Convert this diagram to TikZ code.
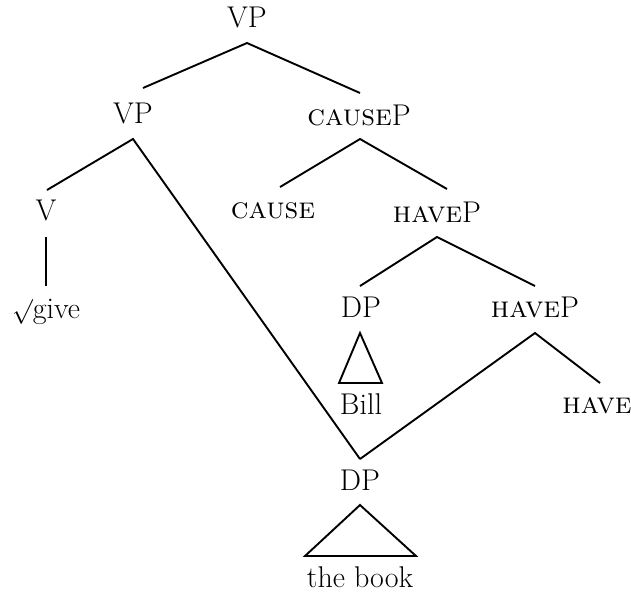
\documentclass[tikz,border=0pt]{standalone}
\begin{document}
\begin{tikzpicture}[x=1pt,y=-1pt,
  lbl/.style={anchor=base,inner sep=0pt,font=\fontsize{30}{36}\selectfont},
  edge/.style={line width=1.9pt,line join=miter},
  roof/.style={line width=1.9pt,line join=miter}]
\useasboundingbox (0,0) rectangle (631,592);

% labels
\node[lbl] (vp0)    at (247,27)  {VP};
\node[lbl] (vp1)    at (133,123) {VP};
\node[lbl] (causeP) at (359,125) {\textsc{cause}P};
\node[lbl] (v)      at (46,220)  {V};
\node[lbl] (cause)  at (273,218) {\textsc{cause}};
\node[lbl] (haveP1) at (437,222) {\textsc{have}P};
\node[lbl] (give)   at (46,318)  {$\surd$give};
\node[lbl] (dp1)    at (361,317) {DP};
\node[lbl] (haveP2) at (535,317) {\textsc{have}P};
\node[lbl] (bill)   at (361,414) {Bill};
\node[lbl] (have)   at (597,413) {\textsc{have}};
\node[lbl] (dp2)    at (360,490) {DP};
\node[lbl] (book)   at (360,587) {the book};

% branch points and edge ends
\coordinate (vp0-s)    at (247,43);
\coordinate (vp1-n)    at (143,88);
\coordinate (causeP-n) at (360,93);
\coordinate (vp1-s)    at (133,139);
\coordinate (v-n)      at (47,190);
\coordinate (dp2-n)    at (360,459);
\coordinate (causeP-s) at (360,139);
\coordinate (cause-n)  at (280,187);
\coordinate (haveP1-n) at (447,189);
\coordinate (v-s)      at (46,237);
\coordinate (give-n)   at (46,286);
\coordinate (haveP1-s) at (437,237);
\coordinate (dp1-n)    at (360,286);
\coordinate (haveP2-n) at (535,286);
\coordinate (dp1-s)    at (360,333);
\coordinate (bill-nw)  at (339,383);
\coordinate (bill-ne)  at (382,383);
\coordinate (haveP2-s) at (535,333);
\coordinate (have-n)   at (600,383);
\coordinate (dp2-s)    at (360,505);
\coordinate (book-nw)  at (305,556);
\coordinate (book-ne)  at (416,556);

% branches
\draw[edge] (vp1-n) -- (vp0-s) -- (causeP-n);
\draw[edge] (v-n) -- (vp1-s) -- (dp2-n);
\draw[edge] (cause-n) -- (causeP-s) -- (haveP1-n);
\draw[edge] (v-s) -- (give-n);
\draw[edge] (dp1-n) -- (haveP1-s) -- (haveP2-n);
\draw[edge] (dp2-n) -- (haveP2-s) -- (have-n);

% roofs
\draw[roof] (dp1-s) -- (bill-nw) -- (bill-ne) -- cycle;
\draw[roof] (dp2-s) -- (book-nw) -- (book-ne) -- cycle;
\end{tikzpicture}
\end{document}
